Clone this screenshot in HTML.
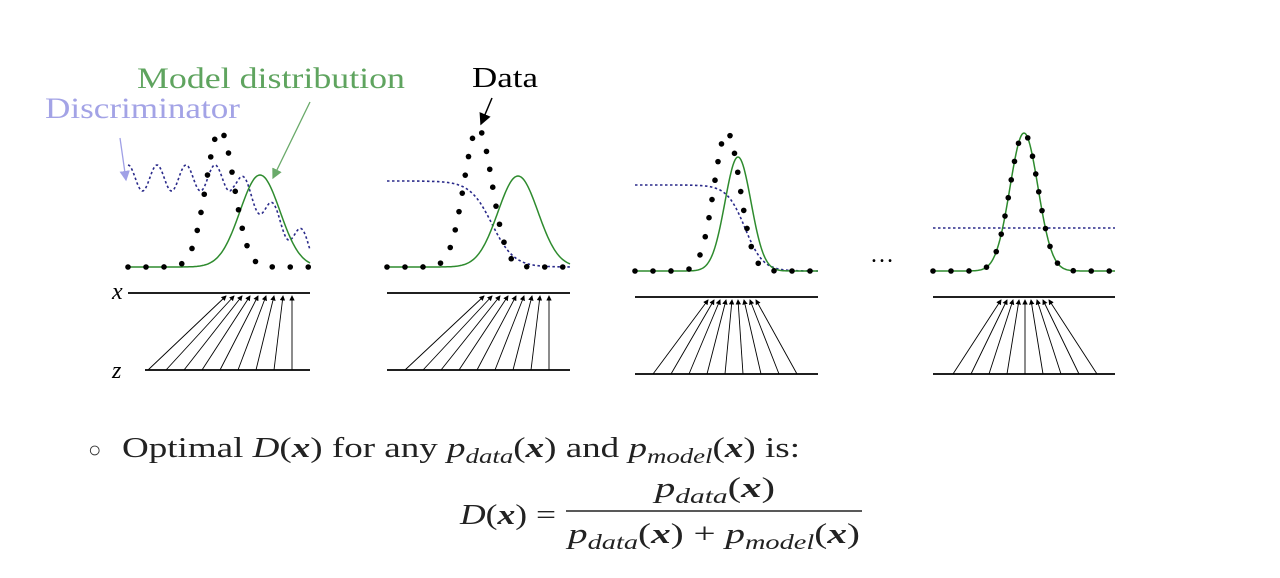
<!DOCTYPE html>
<html><head><meta charset="utf-8"><style>
html,body{margin:0;padding:0;background:#fff;width:1280px;height:578px;overflow:hidden}
svg{display:block}
.t{font-family:"Liberation Serif",serif}
.m{font-family:"Liberation Serif",serif;font-style:italic}
</style></head><body>
<svg id="s" width="1280" height="578" viewBox="0 0 1280 578" xmlns="http://www.w3.org/2000/svg">
<defs>
<marker id="ah" markerWidth="6" markerHeight="6" refX="5" refY="3" orient="auto"><path d="M0,0 L6,3 L0,6 z" fill="#000"/></marker>
<marker id="ag" markerWidth="8" markerHeight="8" refX="7" refY="4" orient="auto"><path d="M0,0 L8,4 L0,8 z" fill="#6aaa6a"/></marker>
<marker id="al" markerWidth="8" markerHeight="8" refX="7" refY="4" orient="auto"><path d="M0,0 L8,4 L0,8 z" fill="#a0a0e6"/></marker>
<marker id="ab" markerWidth="8" markerHeight="8" refX="7" refY="4" orient="auto"><path d="M0,0 L8,4 L0,8 z" fill="#000"/></marker>
</defs>
<text class="t" x="137" y="88" font-size="30" fill="#5fa45f" textLength="268" lengthAdjust="spacingAndGlyphs">Model distribution</text>
<text class="t" x="45" y="118" font-size="30" fill="#a3a3e6" textLength="195" lengthAdjust="spacingAndGlyphs">Discriminator</text>
<text class="t" x="472" y="87" font-size="29" fill="#000" textLength="66" lengthAdjust="spacingAndGlyphs">Data</text>
<line x1="310" y1="102" x2="273" y2="178" stroke="#6aaa6a" stroke-width="1.3" marker-end="url(#ag)"/>
<line x1="120" y1="138" x2="126" y2="180" stroke="#a0a0e6" stroke-width="1.3" marker-end="url(#al)"/>
<line x1="492" y1="98" x2="481" y2="124" stroke="#000" stroke-width="1.5" marker-end="url(#ab)"/>
<text class="m" x="112" y="299" font-size="24">x</text>
<text class="m" x="112" y="378" font-size="24">z</text>
<text class="t" x="870" y="262" font-size="24">…</text>
<g id="g"></g>
<text class="t" x="88" y="457" font-size="22" fill="#333">○</text>
<text class="t" x="122" y="457" font-size="29" fill="#222" textLength="678" lengthAdjust="spacingAndGlyphs">Optimal <tspan class="m">D</tspan>(<tspan font-weight="bold" font-style="italic">x</tspan>) for any <tspan class="m">p<tspan font-size="21" dy="6">data</tspan></tspan><tspan dy="-6">(</tspan><tspan font-weight="bold" font-style="italic">x</tspan>) and <tspan class="m">p<tspan font-size="21" dy="6">model</tspan></tspan><tspan dy="-6">(</tspan><tspan font-weight="bold" font-style="italic">x</tspan>) is:</text>
<text class="t" x="460" y="524" font-size="29" fill="#222" textLength="96" lengthAdjust="spacingAndGlyphs"><tspan class="m">D</tspan>(<tspan font-weight="bold" font-style="italic">x</tspan>) =</text>
<line x1="566" y1="511" x2="862" y2="511" stroke="#222" stroke-width="1.6"/>
<text class="t" x="655" y="497" font-size="29" fill="#222" textLength="120" lengthAdjust="spacingAndGlyphs"><tspan class="m">p<tspan font-size="21" dy="6">data</tspan></tspan><tspan dy="-6">(</tspan><tspan font-weight="bold" font-style="italic">x</tspan>)</text>
<text class="t" x="568" y="543" font-size="29" fill="#222" textLength="292" lengthAdjust="spacingAndGlyphs"><tspan class="m">p<tspan font-size="21" dy="6">data</tspan></tspan><tspan dy="-6">(</tspan><tspan font-weight="bold" font-style="italic">x</tspan>) + <tspan class="m">p<tspan font-size="21" dy="6">model</tspan></tspan><tspan dy="-6">(</tspan><tspan font-weight="bold" font-style="italic">x</tspan>)</text>
</svg>
<script>
var g=document.getElementById('g'),NS='http://www.w3.org/2000/svg';
function el(t,a){var e=document.createElementNS(NS,t);for(var k in a)e.setAttribute(k,a[k]);g.appendChild(e);return e;}
function gauss(x,m,s){return Math.exp(-(x-m)*(x-m)/(2*s*s));}
function path(f,x0,x1,attrs){var d='';for(var x=x0;x<=x1;x+=1){d+=(x==x0?'M':'L')+x+','+f(x).toFixed(1);}attrs.d=d;attrs.fill='none';el('path',attrs);}
function dots(f,x0,x1,sp){var px=x0,py=f(x0),acc=sp;for(var x=x0;x<=x1;x+=0.25){var y=f(x);acc+=Math.hypot(x-px,y-py);px=x;py=y;if(acc>=sp){el('circle',{cx:x,cy:y,r:2.8,fill:'#000'});acc=0;}}}
var P=[
{x0:128,x1:310,b:267,dm:220,dh:137,ds:14,mm:260,mh:92,ms:20,xl:293,zl:370,z0:145,
 disc:function(x){if(x<232)return 178+13*Math.sin((x-128)/29*2*Math.PI-Math.PI/2);var t=(x-232)/78;return 178+13*Math.sin((x-128)/29*2*Math.PI-Math.PI/2)*0.9+70*t;},
 zs:[148,166,184,202,220,238,256,274,292],xs:[226,234,242,250,258,266,274,283,292]},
{x0:387,x1:570,b:267,dm:478,dh:139,ds:14,mm:518,mh:91,ms:20,xl:293,zl:370,z0:387,
 disc:function(x){return 181+86/(1+Math.exp(-(x-492)/11));},
 zs:[405,423,441,459,477,495,513,531,549],xs:[484,492,500,508,516,524,532,540,549]},
{x0:635,x1:818,b:271,dm:727,dh:139,ds:13,mm:738,mh:114,ms:13,xl:297,zl:374,z0:635,
 disc:function(x){return 185+86/(1+Math.exp(-(x-745)/9));},
 zs:[653,671,689,707,725,743,761,779,797],xs:[708,714,720,726,732,738,744,750,756]},
{x0:933,x1:1115,b:271,dm:1024,dh:138,ds:14,mm:1024,mh:138,ms:14,xl:297,zl:374,z0:933,
 disc:function(x){return 228;},
 zs:[953,971,989,1007,1025,1043,1061,1079,1097],xs:[1001,1007,1013,1019,1025,1031,1037,1043,1049]}
];
P.forEach(function(p){
 path(p.disc,p.x0,p.x1,{stroke:'#2a2a8a','stroke-width':1.6,'stroke-dasharray':'2.5,2.5'});
 path(function(x){return p.b-p.mh*gauss(x,p.mm,p.ms);},p.x0,p.x1,{stroke:'#2e8b2e','stroke-width':1.5});
 dots(function(x){return p.b-p.dh*gauss(x,p.dm,p.ds);},p.x0,p.x1,18);
 el('line',{x1:p.x0,y1:p.xl,x2:p.x1,y2:p.xl,stroke:'#000','stroke-width':1.8});
 el('line',{x1:p.z0,y1:p.zl,x2:p.x1,y2:p.zl,stroke:'#000','stroke-width':1.8});
 for(var i=0;i<p.zs.length;i++)el('line',{x1:p.zs[i],y1:p.zl,x2:p.xs[i],y2:p.xl+3,stroke:'#000','stroke-width':0.9,'marker-end':'url(#ah)'});
});
</script>
</body></html>
